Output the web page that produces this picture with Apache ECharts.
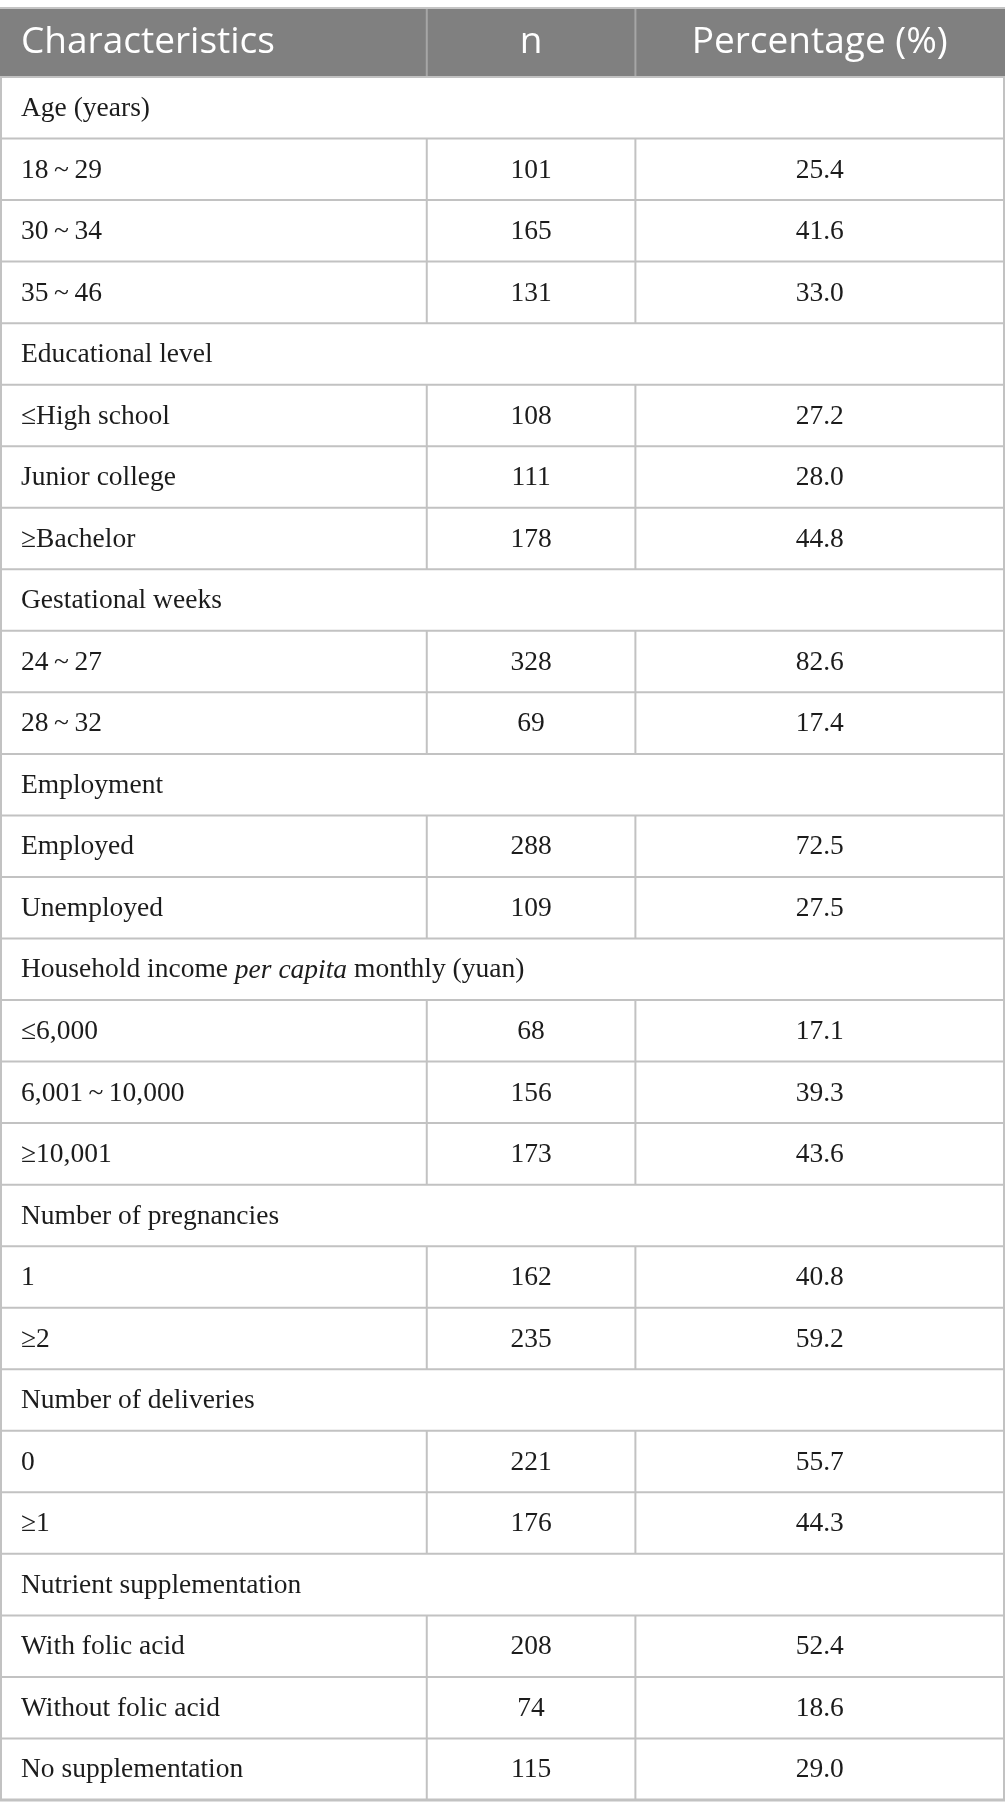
<!DOCTYPE html>
<html>
<head>
<meta charset="utf-8">
<script src="https://cdn.jsdelivr.net/npm/echarts@6/dist/echarts.min.js"></script>
<style>
html,body{margin:0;padding:0;background:#fff;}
#chart{width:1005px;height:1818px;}
</style>
</head>
<body>
<div id="chart"></div>
<script>
// ---- table data ----
const headers = ['Characteristics', 'n', 'Percentage (%)'];
const groupTitles = [
  'Age (years)',
  'Educational level',
  'Gestational weeks',
  'Employment',
  'Household income {i|per capita} monthly (yuan)',
  'Number of pregnancies',
  'Number of deliveries',
  'Nutrient supplementation'
];
const itemLabels = [
  ['18\u2009~\u200929', '30\u2009~\u200934', '35\u2009~\u200946'],
  ['\u2264High school', 'Junior college', '\u2265Bachelor'],
  ['24\u2009~\u200927', '28\u2009~\u200932'],
  ['Employed', 'Unemployed'],
  ['\u22646,000', '6,001\u2009~\u200910,000', '\u226510,001'],
  ['1', '\u22652'],
  ['0', '\u22651'],
  ['With folic acid', 'Without folic acid', 'No supplementation']
];
const itemCounts = [
  [101, 165, 131],
  [108, 111, 178],
  [328, 69],
  [288, 109],
  [68, 156, 173],
  [162, 235],
  [221, 176],
  [208, 74, 115]
];
const itemPercents = [
  [25.4, 41.6, 33.0],
  [27.2, 28.0, 44.8],
  [82.6, 17.4],
  [72.5, 27.5],
  [17.1, 39.3, 43.6],
  [40.8, 59.2],
  [55.7, 44.3],
  [52.4, 18.6, 29.0]
];

// ---- build row table ----
const rows = [];
groupTitles.forEach(function (t, g) {
  rows.push({ kind: 'group', label: t });
  itemLabels[g].forEach(function (l, k) {
    rows.push({ kind: 'item', label: l, n: itemCounts[g][k], pct: itemPercents[g][k] });
  });
});

// ---- style constants ----
const COL1 = 0.4245, COL2 = 0.6325;
const LINE = '#c2c2c2';
const HEAD_BG = '#808080';
const HEAD_DIV = '#a6a6a6';
const TXT = '#1c1c1c';
const SERIF = '"Liberation Serif", "DejaVu Serif", serif';
const SANS = '"Open Sans", "Noto Sans", sans-serif';
const BODY_SIZE = 27.5;
const HEAD_SIZE = 37;
const PAD = 20;

function richText(label) {
  const parts = label.split(/(\{i\|[^}]*\})/);
  return parts.filter(function (p) { return p.length; }).map(function (p) {
    return p.indexOf('{i|') === 0 ? p : '{t|' + p + '}';
  }).join('');
}
const richStyles = {
  t: { fontFamily: SERIF, fontSize: BODY_SIZE, fill: TXT },
  i: { fontFamily: SERIF, fontSize: BODY_SIZE, fontStyle: 'italic', fill: TXT }
};

function bodyText(x, y, str, align) {
  return {
    type: 'text',
    x: x, y: y,
    style: {
      text: richText(str),
      rich: richStyles,
      font: BODY_SIZE + 'px ' + SERIF,
      fill: TXT,
      align: align,
      verticalAlign: 'middle'
    }
  };
}

function vline(x, y1, y2, color, w) {
  return { type: 'line', shape: { x1: x, y1: y1, x2: x, y2: y2 }, style: { stroke: color, lineWidth: w } };
}
function hline(x1, x2, y, color, w) {
  return { type: 'line', shape: { x1: x1, y1: y, x2: x2, y2: y }, style: { stroke: color, lineWidth: w } };
}

function renderBody(params, api) {
  const i = params.dataIndex;
  const r = rows[i];
  const c = api.coord([0, i]);
  const h = api.size([0, 1])[1];
  const xL = c[0];
  const xR = api.coord([1, i])[0];
  const xA = api.coord([COL1, i])[0];
  const xB = api.coord([COL2, i])[0];
  const yT = c[1] - h / 2, yB = c[1] + h / 2;
  const last = i === rows.length - 1;
  const ty = c[1] + 1;
  const ch = [];
  ch.push(vline(xL, yT, yB, LINE, 2));
  ch.push(vline(xR, yT, yB, LINE, 2));
  if (r.kind === 'item') {
    ch.push(vline(xA, yT, yB, LINE, 2));
    ch.push(vline(xB, yT, yB, LINE, 2));
    ch.push(bodyText(xL + PAD, ty, r.label, 'left'));
    ch.push(bodyText((xA + xB) / 2, ty, String(r.n), 'center'));
    ch.push(bodyText((xB + xR) / 2, ty, r.pct.toFixed(1), 'center'));
  } else {
    ch.push(bodyText(xL + PAD, ty, r.label, 'left'));
  }
  ch.push(hline(xL - 1, xR + 1, yB, LINE, last ? 3 : 2));
  return { type: 'group', children: ch };
}

function renderHead(params, api) {
  const c = api.coord([0, 0]);
  const h = api.size([0, 1])[1];
  const xL = c[0];
  const xR = api.coord([1, 0])[0];
  const xA = api.coord([COL1, 0])[0];
  const xB = api.coord([COL2, 0])[0];
  const yT = c[1] - h / 2, yB = c[1] + h / 2;
  const ty = c[1];
  function ht(x, str, align) {
    return {
      type: 'text', x: x, y: ty,
      style: { text: str, font: HEAD_SIZE + 'px ' + SANS, fill: '#ffffff', align: align, verticalAlign: 'middle' }
    };
  }
  return {
    type: 'group',
    children: [
      { type: 'rect', shape: { x: xL - 1, y: yT, width: xR - xL + 2, height: h }, style: { fill: HEAD_BG } },
      hline(xL - 1, xR + 1, yT, '#c4c4c4', 2),
      vline(xA, yT + 1, yB, HEAD_DIV, 2),
      vline(xB, yT + 1, yB, HEAD_DIV, 2),
      hline(xL - 1, xR + 1, yB, LINE, 2),
      ht(xL + PAD, headers[0], 'left'),
      ht((xA + xB) / 2, headers[1], 'center'),
      ht((xB + xR) / 2, headers[2], 'center')
    ]
  };
}

const chart = echarts.init(document.getElementById('chart'), null, { renderer: 'canvas' });
chart.setOption({
  animation: false,
  backgroundColor: '#ffffff',
  grid: [
    { left: 1, right: 1, top: 8, height: 69 },
    { left: 1, right: 1, top: 77, height: 1723 }
  ],
  xAxis: [
    { gridIndex: 0, type: 'value', min: 0, max: 1, show: false },
    { gridIndex: 1, type: 'value', min: 0, max: 1, show: false }
  ],
  yAxis: [
    { gridIndex: 0, type: 'category', data: ['header'], inverse: true, show: false },
    { gridIndex: 1, type: 'category', data: rows.map(function (r, i) { return 'r' + i; }), inverse: true, show: false }
  ],
  series: [
    {
      type: 'custom', xAxisIndex: 0, yAxisIndex: 0, clip: false,
      data: [[0, 0]], renderItem: renderHead, z: 3
    },
    {
      type: 'custom', xAxisIndex: 1, yAxisIndex: 1, clip: false,
      data: rows.map(function (r, i) { return [0, i]; }), renderItem: renderBody, z: 2
    }
  ]
});
</script>
</body>
</html>
